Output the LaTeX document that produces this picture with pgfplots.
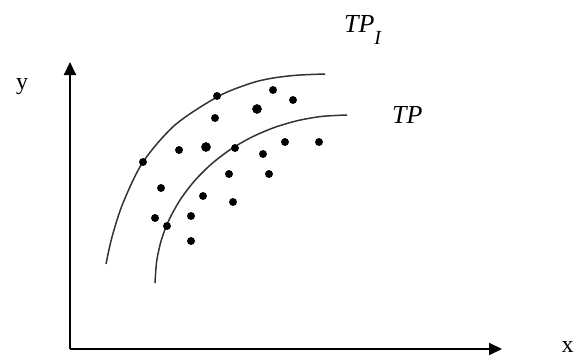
\documentclass[border=0pt]{standalone}
\usepackage{fontspec}
\setmainfont{Liberation Serif}
\usepackage{pgfplots}
\pgfplotsset{compat=1.18}
\usetikzlibrary{arrows.meta}

\begin{document}
\begin{tikzpicture}
% page = 577 x 355 px, 1 px = 0.5pt, data coords = pixels (y counted from bottom)
\useasboundingbox (0,0) rectangle (288.5pt,177.5pt);
\begin{axis}[
  x=0.5pt, y=0.5pt,
  xmin=70, xmax=502, ymin=6, ymax=293,
  at={(35pt,3pt)}, anchor=south west,
  axis lines=left,
  every outer x axis line/.append style={line width=1pt,-{Triangle[length=6.5pt,width=6pt]}},
  every outer y axis line/.append style={line width=1pt,-{Triangle[length=6.5pt,width=6pt]}},
  xtick=\empty, ytick=\empty,
  xlabel={x}, ylabel={y},
  xlabel style={at={(axis description cs:1.152,0.006)}, anchor=center, font=\fontsize{12}{12}\selectfont},
  ylabel style={at={(axis description cs:-0.111,0.915)}, anchor=center, rotate=-90, font=\fontsize{12}{12}\selectfont},
  clip=false,
]
% TP_I (outer)
\addplot[smooth, line width=0.75pt, black!80] coordinates {
  (106,91) (112,118) (123,152) (143,193) (175,230) (218,258.5)
  (250,271.5) (272,276.8) (297,279.8) (325,281)};
% TP (inner)
\addplot[smooth, line width=0.75pt, black!80] coordinates {
  (155,72) (156.7,93.9) (161.5,115.5) (169.6,136.3) (180.7,156) (194.7,174.3)
  (211.2,190.8) (230.1,205.3) (251,217.5) (273.5,227.2) (297.3,234.3)
  (321.9,238.6) (347,240)};
% observations
\addplot[only marks, mark=*, mark size=1.75pt, black] coordinates {
  (217,259) (273,265) (293,255) (215,237) (179,205) (235,207)
  (285,213) (319,213) (143,193) (263,201) (229,181) (269,181)
  (161,167) (203,159) (233,153) (155,137) (191,139) (167,129) (191,114)};
\addplot[only marks, mark=*, mark size=2.2pt, black] coordinates {
  (257,246) (206,208)};
\node[anchor=base west, font=\fontsize{13}{13}\selectfont\itshape] at (axis cs:337,323)
  {TP\raisebox{-6pt}{\fontsize{10}{10}\selectfont I}};
\node[anchor=base west, font=\fontsize{13}{13}\selectfont\itshape] at (axis cs:385,232) {TP};
\end{axis}
\end{tikzpicture}
\end{document}
